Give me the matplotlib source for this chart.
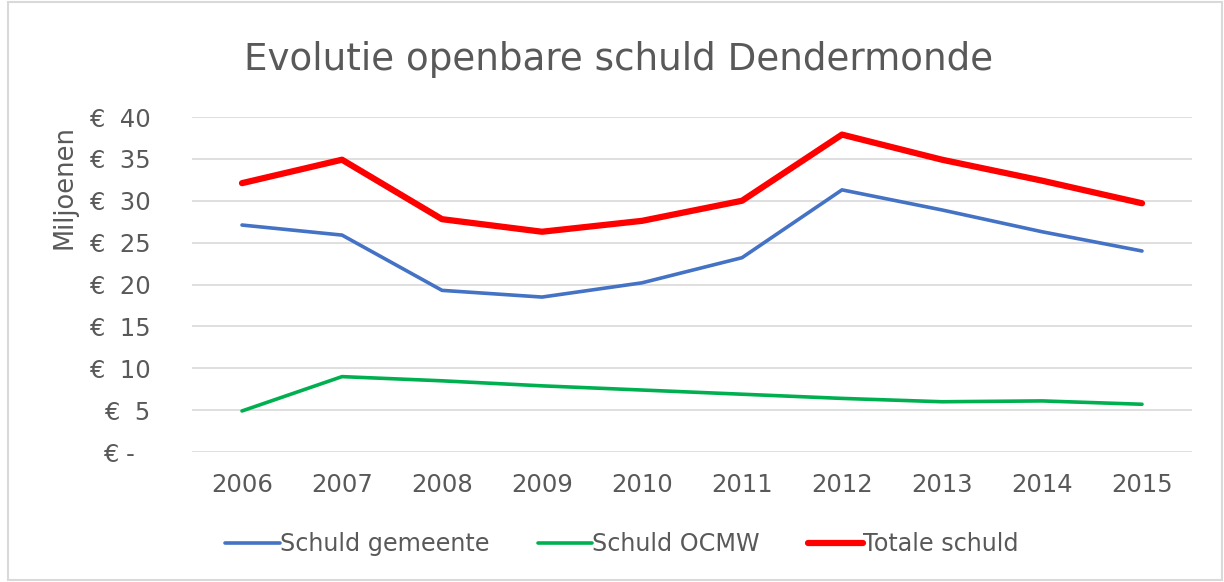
import matplotlib.pyplot as plt
from matplotlib.patches import Rectangle

years = ['2006', '2007', '2008', '2009', '2010', '2011', '2012', '2013', '2014', '2015']
gemeente = [27.1, 25.9, 19.3, 18.5, 20.2, 23.2, 31.3, 28.9, 26.3, 24.0]
ocmw = [4.9, 9.0, 8.5, 7.9, 7.4, 6.9, 6.4, 6.0, 6.1, 5.7]
totaal = [32.1, 34.9, 27.8, 26.3, 27.6, 30.0, 37.9, 34.9, 32.4, 29.7]
yticks = [0, 5, 10, 15, 20, 25, 30, 35, 40]
ylabels = ['€ -  ', '€  5', '€  10', '€  15', '€  20', '€  25', '€  30', '€  35', '€  40']

txt = '#595959'
plt.rcParams['font.family'] = 'DejaVu Sans'

fig = plt.figure(figsize=(12.24, 5.82), dpi=100)
ax = fig.add_axes([192/1224, 130/582, 1000/1224, 335/582])

x = range(len(years))
ax.plot(x, gemeente, color='#4472C4', lw=2.6, solid_capstyle='round', label='Schuld gemeente')
ax.plot(x, ocmw, color='#00B050', lw=2.6, solid_capstyle='round', label='Schuld OCMW')
ax.plot(x, totaal, color='#FF0000', lw=4.5, solid_capstyle='round', label='Totale schuld')

ax.set_xlim(-0.5, len(years) - 0.5)
ax.set_ylim(0, 40)
ax.set_xticks(list(x))
ax.set_xticklabels(years)
ax.set_yticks(yticks)
ax.set_yticklabels(ylabels)
ax.tick_params(length=0, labelsize=17.5, labelcolor=txt)
ax.tick_params(axis='x', pad=15)
ax.tick_params(axis='y', pad=30)
ax.grid(axis='y', color='#D9D9D9', lw=1.2)
ax.set_axisbelow(True)
for s in ax.spines.values():
    s.set_visible(False)

fig.text(65/1224, 1 - 187/582, 'Miljoenen', rotation=90, ha='center', va='center',
         fontsize=18.5, color=txt)
fig.text(0.505, 0.897, 'Evolutie openbare schuld Dendermonde', ha='center', va='center',
         fontsize=26.8, color=txt)

leg = fig.legend(loc='center', bbox_to_anchor=(0.508, 0.065), ncol=3, frameon=False,
                 fontsize=17.2, handlelength=2.3, handletextpad=0.0, columnspacing=2.0)
for t in leg.get_texts():
    t.set_color(txt)

fig.patches.append(Rectangle((8/1224, 2/582), 1214/1224, 578/582, transform=fig.transFigure,
                             fill=False, edgecolor='#D9D9D9', lw=1.5))

fig.savefig('out.png', dpi=100, facecolor='white')
